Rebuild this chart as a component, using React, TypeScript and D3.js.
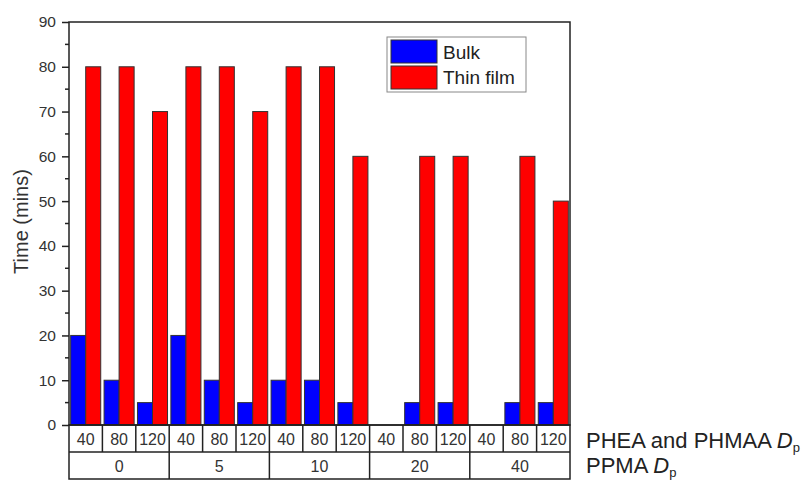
import React, { useEffect, useRef } from 'react';
import * as d3 from 'd3';

// PPMA Dp groups and PHEA/PHMAA Dp sub-categories
const groups = ['0', '5', '10', '20', '40'];
const subLabels = ['40', '80', '120'];
// Time (mins) per series, in order of groups x sub-categories
const bulk = [20, 10, 5, 20, 10, 5, 10, 10, 5, 0, 5, 5, 0, 5, 5];
const thinFilm = [80, 80, 70, 80, 80, 70, 80, 80, 60, 0, 60, 60, 0, 60, 50];
const yTicks = [0, 10, 20, 30, 40, 50, 60, 70, 80, 90];

const App = () => {
    const svgRef = useRef<SVGSVGElement>(null);

    useEffect(() => {
        document.body.style.margin = '0';
        const svg = d3.select(svgRef.current);
        svg.selectAll('*').remove();

        const font = 'Liberation Sans, Arial, sans-serif';
        const left = 69, right = 570, top = 22, bottom = 425;
        const rowH = 27;

        const cats = groups.flatMap(g => subLabels.map(s => `${g}-${s}`));
        const x = d3.scaleBand().domain(cats).range([left, right]).paddingInner(0.1).paddingOuter(0.05);
        const xCell = d3.scaleBand().domain(cats).range([left, right]);
        const xGroup = d3.scaleBand().domain(groups).range([left, right]);
        const xSeries = d3.scaleBand().domain(['bulk', 'thin']).range([0, x.bandwidth()]);
        const y = d3.scaleLinear().domain([0, 90]).range([bottom, top]);

        const g = svg.append('g');

        // bars
        const series = [
            { key: 'bulk', values: bulk, color: '#0000ff' },
            { key: 'thin', values: thinFilm, color: '#ff0000' },
        ];
        series.forEach(s => {
            g.selectAll(`.bar-${s.key}`)
                .data(s.values.map((v, i) => ({ v, c: cats[i] })).filter(d => d.v > 0))
                .enter()
                .append('rect')
                .attr('x', d => (x(d.c) as number) + (xSeries(s.key) as number))
                .attr('y', d => y(d.v))
                .attr('width', xSeries.bandwidth())
                .attr('height', d => bottom - y(d.v))
                .attr('fill', s.color)
                .attr('stroke', '#333')
                .attr('stroke-width', 1);
        });

        // frame
        g.append('rect')
            .attr('x', left).attr('y', top)
            .attr('width', right - left).attr('height', bottom - top)
            .attr('fill', 'none').attr('stroke', '#222').attr('stroke-width', 1.5);

        // y axis
        const yAxis = d3.axisLeft(y).tickValues(yTicks).tickSize(7).tickPadding(6);
        const ya = g.append('g').attr('transform', `translate(${left},0)`).call(yAxis);
        ya.select('.domain').remove();
        ya.selectAll('line').attr('stroke', '#222').attr('stroke-width', 1.5);
        ya.selectAll('text').attr('font-family', font).attr('font-size', 15.5).attr('fill', '#333');
        g.selectAll('.minor')
            .data(d3.range(5, 90, 10))
            .enter()
            .append('line')
            .attr('x1', left - 4).attr('x2', left)
            .attr('y1', d => y(d)).attr('y2', d => y(d))
            .attr('stroke', '#222').attr('stroke-width', 1.5);

        g.append('text')
            .attr('transform', `translate(28,${(top + bottom) / 2 - 2}) rotate(-90)`)
            .attr('text-anchor', 'middle')
            .attr('font-family', font).attr('font-size', 20).attr('fill', '#333')
            .text('Time (mins)');

        // table below axis
        const tbl = g.append('g');
        tbl.append('rect')
            .attr('x', left).attr('y', bottom)
            .attr('width', right - left).attr('height', rowH * 2)
            .attr('fill', 'none').attr('stroke', '#222').attr('stroke-width', 1.5);
        tbl.append('line')
            .attr('x1', left).attr('x2', right)
            .attr('y1', bottom + rowH).attr('y2', bottom + rowH)
            .attr('stroke', '#222').attr('stroke-width', 1.5);
        tbl.selectAll('.cellsep')
            .data(cats.slice(1))
            .enter()
            .append('line')
            .attr('x1', d => xCell(d) as number).attr('x2', d => xCell(d) as number)
            .attr('y1', bottom).attr('y2', bottom + rowH)
            .attr('stroke', '#222').attr('stroke-width', 1.5);
        tbl.selectAll('.groupsep')
            .data(groups.slice(1))
            .enter()
            .append('line')
            .attr('x1', d => xGroup(d) as number).attr('x2', d => xGroup(d) as number)
            .attr('y1', bottom + rowH).attr('y2', bottom + rowH * 2)
            .attr('stroke', '#222').attr('stroke-width', 1.5);
        tbl.selectAll('.celltext')
            .data(cats)
            .enter()
            .append('text')
            .attr('x', d => (xCell(d) as number) + xCell.bandwidth() / 2)
            .attr('y', bottom + rowH / 2 + 6)
            .attr('text-anchor', 'middle')
            .attr('font-family', font).attr('font-size', 16).attr('fill', '#333')
            .text(d => d.split('-')[1]);
        tbl.selectAll('.grouptext')
            .data(groups)
            .enter()
            .append('text')
            .attr('x', d => (xGroup(d) as number) + xGroup.bandwidth() / 2)
            .attr('y', bottom + rowH * 1.5 + 6)
            .attr('text-anchor', 'middle')
            .attr('font-family', font).attr('font-size', 16).attr('fill', '#333')
            .text(d => d);

        // row titles
        const rowTitles = ['PHEA and PHMAA ', 'PPMA '];
        rowTitles.forEach((t, i) => {
            const txt = g.append('text')
                .attr('x', 586)
                .attr('y', 448 + 25 * i)
                .attr('font-family', font).attr('font-size', 22).attr('fill', '#222');
            txt.append('tspan').text(t);
            txt.append('tspan').attr('font-style', 'italic').text('D');
            txt.append('tspan').attr('font-size', 13).attr('dy', 4).text('p');
        });

        // legend
        const lg = g.append('g');
        lg.append('rect')
            .attr('x', 387).attr('y', 37).attr('width', 139).attr('height', 55)
            .attr('fill', '#fff').attr('stroke', '#888').attr('stroke-width', 1);
        const legendItems = [
            { label: 'Bulk', color: '#0000ff' },
            { label: 'Thin film', color: '#ff0000' },
        ];
        legendItems.forEach((it, i) => {
            lg.append('rect')
                .attr('x', 391).attr('y', 40 + i * 26).attr('width', 46).attr('height', 23)
                .attr('fill', it.color).attr('stroke', '#333').attr('stroke-width', 1);
            lg.append('text')
                .attr('x', 443).attr('y', 59 + i * 25)
                .attr('font-family', font).attr('font-size', 19).attr('fill', '#222')
                .text(it.label);
        });
    }, []);

    return <svg ref={svgRef} width={812} height={480} style={{ display: 'block' }}></svg>;
};

export default App;
